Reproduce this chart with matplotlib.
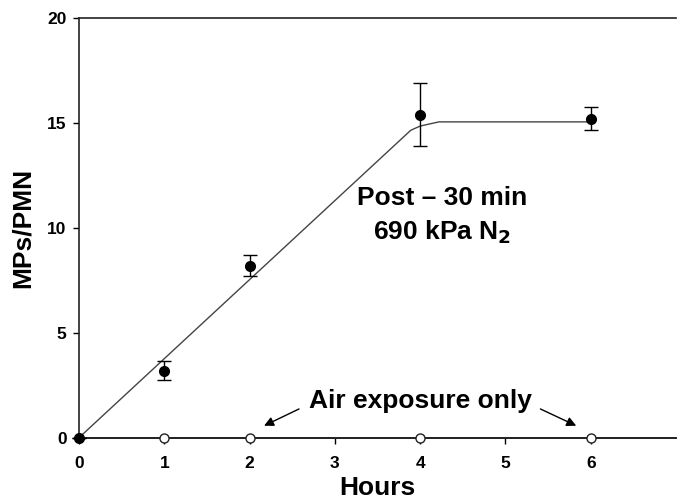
import matplotlib
matplotlib.use("Agg")
import matplotlib.pyplot as plt

plt.rcParams['font.family'] = ['Liberation Sans', 'DejaVu Sans']

# Data
hours = [0, 1, 2, 4, 6]
n2_mps = [0.0, 3.2, 8.2, 15.4, 15.2]
n2_err = [0.0, 0.45, 0.5, 1.5, 0.55]
air_hours = [1, 2, 4, 6]
air_mps = [0.0, 0.0, 0.0, 0.0]
fit_x = [0, 3.89, 4.0, 4.22, 6]
fit_y = [0, 14.65, 14.85, 15.05, 15.05]
x_ticks = [0, 1, 2, 3, 4, 5, 6]
y_ticks = [0, 5, 10, 15, 20]

fig = plt.figure(figsize=(6.77, 5.04), dpi=100)
ax = fig.add_axes([79/677, 1-437.7/504, (676-79)/677, (437.7-18)/504])

# baseline for air exposure
ax.plot([0, 7], [0, 0], color='#222222', lw=1.3, zorder=2, clip_on=False)
# fit line
ax.plot(fit_x, fit_y, color='#444444', lw=1.0, zorder=2)
# N2 points with error bars
ax.errorbar(hours, n2_mps, yerr=n2_err, fmt='o', color='black', ms=7,
            ecolor='black', elinewidth=1.0, capsize=4.7, capthick=1.0,
            zorder=4, clip_on=False)
# air points
ax.plot(air_hours, air_mps, 'o', ms=6.5, mfc='white', mec='#222222',
        mew=1.0, zorder=5, clip_on=False)

ax.set_xlim(0, 7)
ax.set_ylim(0, 20)
ax.set_xticks(x_ticks)
ax.set_yticks(y_ticks)
ax.tick_params(direction='out', length=4, width=1.0, labelsize=12.5)
ax.tick_params(axis='x', pad=9)
ax.tick_params(axis='y', pad=5)
for lab in ax.get_xticklabels() + ax.get_yticklabels():
    lab.set_fontweight('bold')

for s in ['left', 'top', 'bottom']:
    ax.spines[s].set_linewidth(1.2)
    ax.spines[s].set_color('#222222')
ax.spines['right'].set_visible(False)

ax.set_xlabel('Hours', fontsize=19, fontweight='bold', labelpad=4)
ax.set_ylabel('MPs/PMN', fontsize=19, fontweight='bold', labelpad=9)

ax.text(4.26, 11.4, 'Post \u2013 30 min', fontsize=19, fontweight='bold',
        ha='center', va='center')
ax.text(4.26, 9.8, '690 kPa N$_\\mathbf{2}$', fontsize=19, fontweight='bold',
        ha='center', va='center')
ax.text(4.0, 1.75, 'Air exposure only', fontsize=19, fontweight='bold',
        ha='center', va='center')

ax.annotate('', xy=(2.17, 0.57), xytext=(2.58, 1.37),
            arrowprops=dict(arrowstyle='-|>', color='black', lw=1.0,
                            mutation_scale=14, shrinkA=0, shrinkB=0))
ax.annotate('', xy=(5.83, 0.57), xytext=(5.41, 1.37),
            arrowprops=dict(arrowstyle='-|>', color='black', lw=1.0,
                            mutation_scale=14, shrinkA=0, shrinkB=0))

fig.savefig('out.png', dpi=100)
